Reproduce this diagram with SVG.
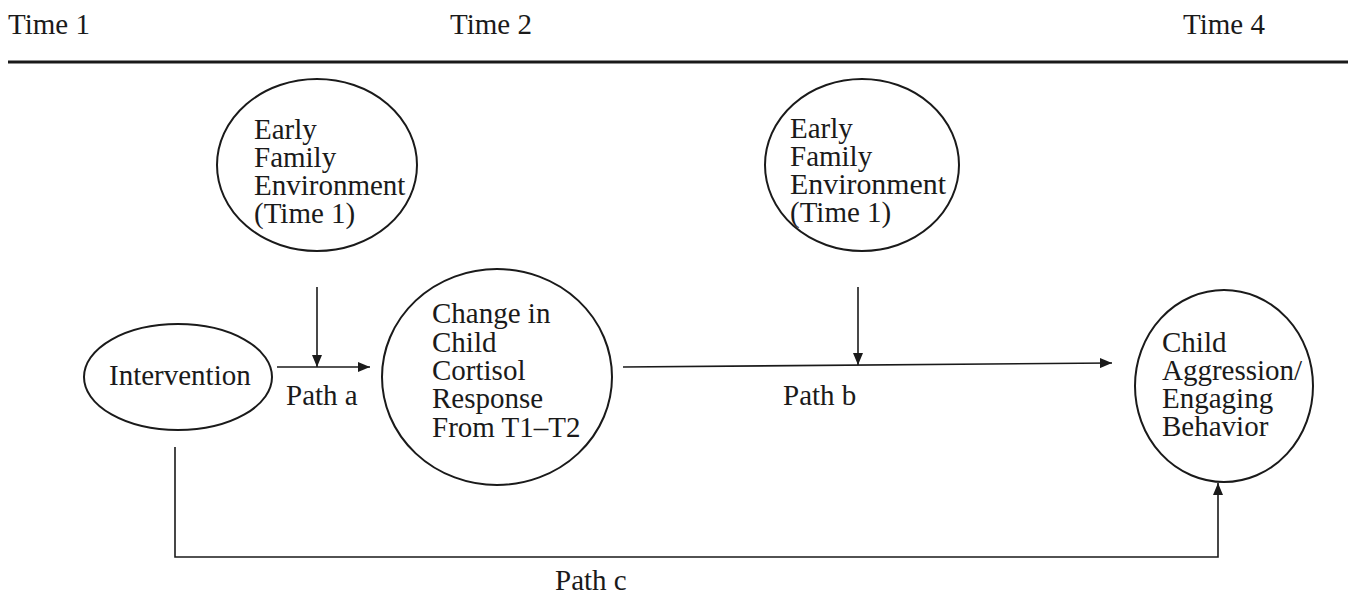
<svg xmlns="http://www.w3.org/2000/svg" width="1355" height="599" viewBox="0 0 1355 599">
<defs>
<marker id="ah" viewBox="0 0 12 10" refX="12" refY="5" markerWidth="12" markerHeight="10" markerUnits="userSpaceOnUse" orient="auto">
<path d="M0,0 L12,5 L0,10 Z" fill="#1a1a1a"/>
</marker>
<style>
text{font-family:"Liberation Serif","Times New Roman",serif;font-size:29px;fill:#1a1a1a}
.node{fill:none;stroke:#1a1a1a;stroke-width:2}
.conn{fill:none;stroke:#1a1a1a;stroke-width:1.6}
</style>
</defs>
<rect width="1355" height="599" fill="#fff"/>
<g id="header">
<text x="8" y="34">Time 1</text>
<text x="450" y="34">Time 2</text>
<text x="1183" y="34">Time 4</text>
<line x1="8" y1="62" x2="1348" y2="62" stroke="#1a1a1a" stroke-width="3"/>
</g>
<g id="efe1">
<ellipse class="node" cx="317" cy="165" rx="100" ry="86"/>
<text x="254" y="139">Early</text>
<text x="254" y="167">Family</text>
<text x="254" y="195">Environment</text>
<text x="254" y="223">(Time 1)</text>
</g>
<g id="efe2">
<ellipse class="node" cx="862" cy="165" rx="97" ry="86"/>
<text x="790" y="138">Early</text>
<text x="790" y="166">Family</text>
<text x="790" y="194" textLength="156" lengthAdjust="spacingAndGlyphs">Environment</text>
<text x="790" y="222">(Time 1)</text>
</g>
<g id="intervention">
<ellipse class="node" cx="178" cy="377" rx="94" ry="53"/>
<text x="109" y="385">Intervention</text>
</g>
<g id="cortisol">
<ellipse class="node" cx="497" cy="377" rx="115" ry="108"/>
<text x="432" y="323">Change in</text>
<text x="432" y="352">Child</text>
<text x="432" y="380">Cortisol</text>
<text x="432" y="408">Response</text>
<text x="432" y="437">From T1–T2</text>
</g>
<g id="aggression">
<ellipse class="node" cx="1224" cy="386" rx="89" ry="96"/>
<text x="1162" y="352">Child</text>
<text x="1162" y="380">Aggression/</text>
<text x="1162" y="408">Engaging</text>
<text x="1162" y="436">Behavior</text>
</g>
<g id="connectors">
<line class="conn" x1="277" y1="367" x2="370" y2="367" marker-end="url(#ah)"/>
<line class="conn" x1="317" y1="287" x2="317" y2="367" marker-end="url(#ah)"/>
<line class="conn" x1="623" y1="367" x2="1112" y2="363" marker-end="url(#ah)"/>
<line class="conn" x1="858" y1="287" x2="858" y2="365" marker-end="url(#ah)"/>
<polyline class="conn" points="175,447 175,557 1218,557 1218,483" marker-end="url(#ah)"/>
</g>
<g id="labels">
<text x="286" y="405">Path a</text>
<text x="783" y="405">Path b</text>
<text x="555" y="590">Path c</text>
</g>
</svg>
